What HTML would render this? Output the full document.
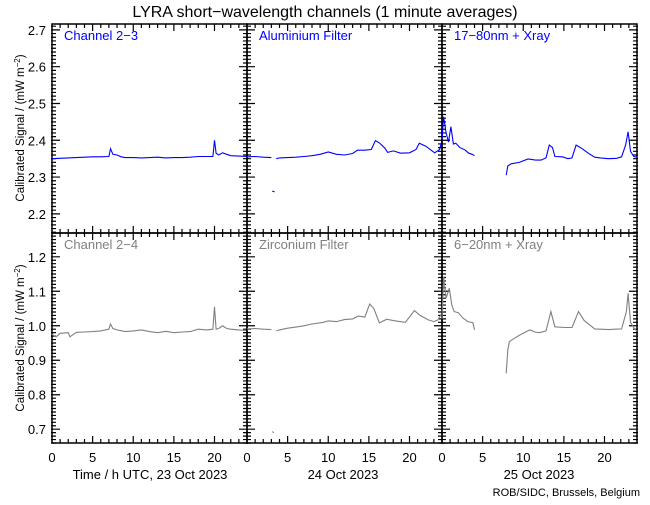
<!DOCTYPE html>
<html><head><meta charset="utf-8"><style>
body{margin:0;background:#fff;}
svg text{font-family:"Liberation Sans",sans-serif;}
</style></head><body>
<svg id="chart" width="650" height="500" xmlns="http://www.w3.org/2000/svg">
<rect width="650" height="500" fill="#fff"/>
<text x="325" y="17" font-size="16" text-anchor="middle">LYRA short−wavelength channels (1 minute averages)</text>
<g id="plots"></g>
<text transform="translate(24,128) rotate(-90)" font-size="11.5" text-anchor="middle">Calibrated Signal / (mW m<tspan dy="-4" font-size="8">−2</tspan><tspan dy="4">)</tspan></text>
<text transform="translate(24,338) rotate(-90)" font-size="11.5" text-anchor="middle">Calibrated Signal / (mW m<tspan dy="-4" font-size="8">−2</tspan><tspan dy="4">)</tspan></text>
<text x="150" y="479" font-size="13" text-anchor="middle">Time / h UTC, 23 Oct 2023</text>
<text x="343" y="479" font-size="13" text-anchor="middle">24 Oct 2023</text>
<text x="539" y="479" font-size="13" text-anchor="middle">25 Oct 2023</text>
<text x="640" y="496" font-size="11" text-anchor="end">ROB/SIDC, Brussels, Belgium</text>
</svg>
<script>
const xTicks=[0,5,10,15,20];
const topYTicks=[2.2,2.3,2.4,2.5,2.6,2.7];
const botYTicks=[0.7,0.8,0.9,1.0,1.1,1.2];
const panelLabels=["Channel 2−3","Aluminium Filter","17−80nm + Xray","Channel 2−4","Zirconium Filter","6−20nm + Xray"];
// Top row series (hours, values); null = gap
const h1=[0,1,2,3,4,5,6,7,7.2,7.5,8,8.5,9,10,11,12,13,14,15,16,17,18,19,19.8,20,20.2,20.5,21,21.5,22,23,24];
const v1=[2.350,2.351,2.352,2.353,2.354,2.355,2.355,2.356,2.377,2.362,2.360,2.355,2.353,2.353,2.352,2.353,2.354,2.352,2.353,2.353,2.354,2.356,2.356,2.356,2.400,2.365,2.360,2.366,2.362,2.358,2.357,2.356];
const h2=[0,1,2,3,null,3.1,3.4,null,3.6,4,5,6,7,8,9,10,11,12,13,13.6,14.5,15.3,15.8,16.3,17,17.3,18,18.9,20,20.8,21.2,22,23.1,23.7,24];
const v2=[2.355,2.356,2.354,2.353,null,2.262,2.260,null,2.350,2.352,2.353,2.354,2.356,2.358,2.362,2.368,2.362,2.360,2.364,2.373,2.373,2.375,2.399,2.393,2.378,2.367,2.371,2.365,2.366,2.375,2.392,2.384,2.366,2.375,2.400];
const h3=[0,0.2,0.5,0.8,1.1,1.4,1.7,2.2,2.8,3.3,3.7,4.0,null,7.9,8.1,8.5,9.5,10.6,11.5,12.2,12.8,13.2,13.6,13.9,14.8,15.5,16.0,16.5,17.2,18.0,18.8,19.5,20.5,21.5,22.1,22.6,22.9,23.2,23.6,24];
const v3=[2.401,2.464,2.420,2.395,2.437,2.390,2.392,2.380,2.374,2.365,2.362,2.358,null,2.305,2.330,2.336,2.340,2.349,2.346,2.346,2.352,2.387,2.380,2.356,2.355,2.350,2.352,2.387,2.378,2.365,2.354,2.352,2.350,2.351,2.355,2.387,2.423,2.370,2.356,2.354];
// Bottom row series
const h4=[0,0.5,1,2,2.2,3,4,5,6,7,7.2,7.5,8,9,10,11,12,13,14,15,16,17,18,19,19.8,20,20.2,20.5,21,21.5,22,23,24];
const v4=[0.975,0.968,0.978,0.980,0.968,0.981,0.982,0.983,0.985,0.990,1.005,0.992,0.988,0.983,0.985,0.988,0.983,0.980,0.984,0.980,0.982,0.983,0.990,0.988,0.990,1.055,0.990,0.992,1.000,0.992,0.990,0.988,0.986];
const h5=[0,1,2,3,null,3.1,3.3,null,3.6,4,5,6,7,8,9.4,10,11,12,13,13.7,14.5,15.1,15.6,16.3,17.2,18,18.8,19.5,20.6,21.3,22.3,23,23.5,24];
const v5=[0.991,0.992,0.990,0.989,null,0.693,0.690,null,0.985,0.988,0.993,0.996,1.000,1.005,1.010,1.014,1.012,1.018,1.020,1.028,1.025,1.063,1.050,1.008,1.019,1.015,1.012,1.010,1.044,1.030,1.017,1.012,1.017,1.037];
const h6=[0,0.2,0.5,0.9,1.2,1.5,2.0,2.6,3.2,3.8,4.0,null,7.9,8.1,8.3,9.0,9.8,10.8,11.4,12.0,12.8,13.4,13.9,15.1,16.0,16.8,17.5,18.8,19.5,20.5,21.3,22.1,22.7,22.9,23.2,23.7,24];
const v6=[1.020,1.142,1.080,1.109,1.060,1.041,1.038,1.022,1.012,1.009,0.988,null,0.862,0.930,0.954,0.965,0.976,0.988,0.982,0.980,0.985,1.041,0.997,0.995,0.995,1.041,1.015,0.991,0.990,0.989,0.990,0.991,1.041,1.094,1.010,0.991,0.985];

const hours=[h1,h2,h3,h4,h5,h6];
const vals=[v1,v2,v3,v4,v5,v6];
const NS="http://www.w3.org/2000/svg";
const g=document.getElementById('plots');
const X0=52,PW=195,ROWS=[{top:24,bot:233,min:2.148,max:2.716,ticks:topYTicks,col:"#0000ff"},{top:233,bot:443,min:0.660,max:1.269,ticks:botYTicks,col:"#808080"}];
function mk(t,a){const e=document.createElementNS(NS,t);for(const k in a)e.setAttribute(k,a[k]);g.appendChild(e);return e;}
for(let p=0;p<6;p++){
  const r=ROWS[p<3?0:1],c=p%3;
  const x0=X0+c*PW,x1=x0+PW;
  const xs=h=>x0+h/24*PW;
  const ys=v=>r.bot-(v-r.min)/(r.max-r.min)*(r.bot-r.top);
  let d="";
  for(let h=1;h<24;h++){const L=h%5==0?7:4;d+=`M${xs(h)},${r.bot}v${-L}M${xs(h)},${r.top}v${L}`;}
  for(let k=Math.ceil(r.min*100);k<=Math.floor(r.max*100);k++){const y=ys(k/100);const L=k%10==0?8:4;d+=`M${x0-1},${y}h${L+1}M${x1+1},${y}h${-L-1}`;}
  const t=mk('path',{d:d,stroke:'#000','stroke-width':1.2,fill:'none'});
  
  
  const fr=mk('rect',{x:x0,y:r.top,width:PW,height:r.bot-r.top,fill:'none',stroke:'#000','stroke-width':1.5});
  
  
  let pd="",pen=false;
  const H=hours[p],V=vals[p];
  for(let i=0;i<H.length;i++){
    if(H[i]===null){pen=false;continue;}
    pd+=(pen?"L":"M")+xs(H[i]).toFixed(1)+","+ys(V[i]).toFixed(1);pen=true;
  }
  const ln=mk('path',{d:pd,stroke:r.col,'stroke-width':1.1,fill:'none'});
  
  
  const lb=mk('text',{x:x0+12,y:r.top+16,'font-size':13,fill:r.col});
  lb.textContent=panelLabels[p];
  
  
  if(c==0){
    for(const v of r.ticks){
      const tl=mk('text',{x:x0-6,y:ys(v)+5,'font-size':13,'text-anchor':'end'});
      tl.textContent=v.toFixed(1);
      
      
    }
  }
  if(p>=3){
    for(const h of xTicks){
      const tl=mk('text',{x:xs(h),y:462,'font-size':13,'text-anchor':'middle'});
      tl.textContent=h;
      
      
    }
  }
}
</script>
</body></html>
